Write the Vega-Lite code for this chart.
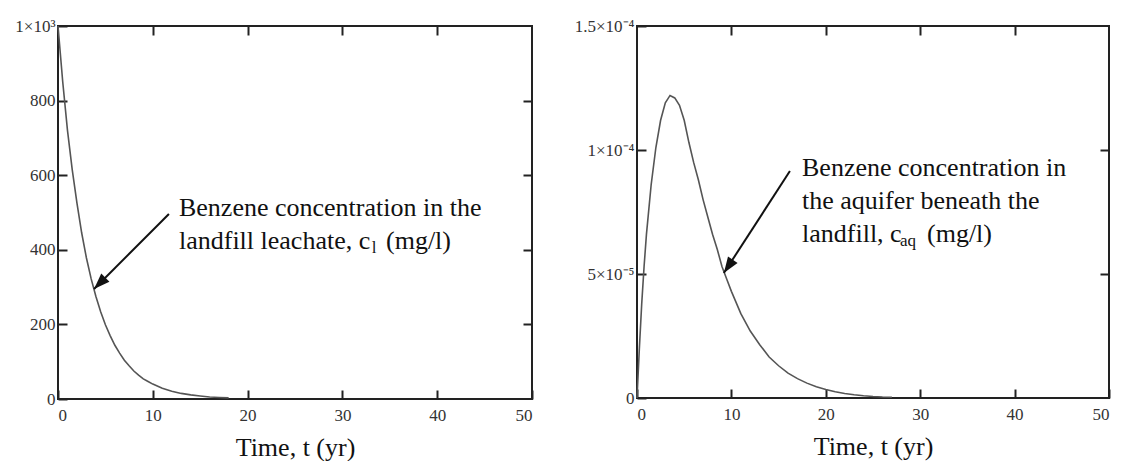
{
  "$schema": "https://vega.github.io/schema/vega-lite/v6.json",
  "padding": {"left": 13, "top": 16, "right": 0, "bottom": 0},
  "background": "white",
  "spacing": 39,
  "config": {
    "view": {"stroke": "#222", "strokeWidth": 2},
    "font": "Liberation Serif",
    "axis": {
      "labelFont": "Liberation Serif", "labelFontSize": 17, "labelColor": "#333",
      "titleFont": "Liberation Serif", "titleFontSize": 26, "titleFontWeight": "normal", "titleColor": "#111",
      "domain": false, "grid": false, "tickColor": "#222", "tickWidth": 2, "tickSize": -9, "labelPadding": 12
    },
    "axisX": {"labelPadding": 17}
  },
  "datasets": {
    "leachate": [
      {"t": 0, "c": 1000}, {"t": 0.5, "c": 850}, {"t": 1, "c": 720}, {"t": 1.5, "c": 615},
      {"t": 2, "c": 525}, {"t": 2.5, "c": 445}, {"t": 3, "c": 378}, {"t": 3.5, "c": 322},
      {"t": 4, "c": 275}, {"t": 4.5, "c": 234}, {"t": 5, "c": 199}, {"t": 5.5, "c": 170},
      {"t": 6, "c": 144}, {"t": 6.5, "c": 123}, {"t": 7, "c": 104}, {"t": 7.5, "c": 89},
      {"t": 8, "c": 75}, {"t": 8.5, "c": 64}, {"t": 9, "c": 54}, {"t": 9.5, "c": 47},
      {"t": 10, "c": 40}, {"t": 11, "c": 29}, {"t": 12, "c": 21}, {"t": 13, "c": 15},
      {"t": 14, "c": 11}, {"t": 15, "c": 8}, {"t": 16, "c": 5.5}, {"t": 17, "c": 4}, {"t": 18, "c": 3}
    ],
    "aquifer": [
      {"t": 0, "c": 0}, {"t": 0.25, "c": 0.00002}, {"t": 0.5, "c": 0.000038}, {"t": 0.75, "c": 0.000053},
      {"t": 1, "c": 0.000066}, {"t": 1.5, "c": 0.000086}, {"t": 2, "c": 0.000101}, {"t": 2.5, "c": 0.000112},
      {"t": 3, "c": 0.000119}, {"t": 3.5, "c": 0.000122}, {"t": 4, "c": 0.000121}, {"t": 4.5, "c": 0.000118},
      {"t": 5, "c": 0.000112}, {"t": 5.5, "c": 0.000103}, {"t": 6, "c": 0.000095}, {"t": 6.5, "c": 0.000088},
      {"t": 7, "c": 0.00008}, {"t": 7.5, "c": 0.000073}, {"t": 8, "c": 0.000066}, {"t": 8.5, "c": 0.00006},
      {"t": 9, "c": 0.000053}, {"t": 9.5, "c": 0.000048}, {"t": 10, "c": 0.000043}, {"t": 11, "c": 0.000034},
      {"t": 12, "c": 0.000027}, {"t": 13, "c": 0.0000215}, {"t": 14, "c": 0.0000165}, {"t": 15, "c": 0.000013},
      {"t": 16, "c": 0.00001}, {"t": 17, "c": 0.0000078}, {"t": 18, "c": 0.000006}, {"t": 19, "c": 0.0000045},
      {"t": 20, "c": 0.0000034}, {"t": 21, "c": 0.0000025}, {"t": 22, "c": 0.0000018}, {"t": 23, "c": 0.0000013},
      {"t": 24, "c": 0.0000009}, {"t": 25, "c": 0.0000006}, {"t": 26, "c": 0.0000004}, {"t": 27, "c": 0.0000003}
    ],
    "arrow1": [{"x1": 11.7, "y1": 496, "x2": 3.8, "y2": 295}],
    "arrow2": [{"x1": 16.2, "y1": 0.0000915, "x2": 9.2, "y2": 0.0000504}],
    "text1": [
      {"x": 12.76, "y": 512, "label": "Benzene concentration in the"},
      {"x": 12.76, "y": 424, "label": "landfill leachate, c"},
      {"x": 34.6, "y": 424, "label": "(mg/l)"}
    ],
    "sub1": [{"x": 33.1, "y": 424, "label": "l"}],
    "text2": [
      {"x": 17.48, "y": 0.0000927, "label": "Benzene concentration in"},
      {"x": 17.48, "y": 0.0000794, "label": "the aquifer beneath the"},
      {"x": 17.48, "y": 0.0000661, "label": "landfill, c"},
      {"x": 30.72, "y": 0.0000661, "label": "(mg/l)"}
    ],
    "sub2": [{"x": 27.86, "y": 0.0000661, "label": "aq"}]
  },
  "hconcat": [
    {
      "width": 474, "height": 373,
      "resolve": {"axis": {"x": "independent", "y": "independent"}},
      "layer": [
        {
          "data": {"name": "leachate"},
          "mark": {"type": "line", "color": "#555", "strokeWidth": 1.6},
          "encoding": {
            "x": {"field": "t", "type": "quantitative", "scale": {"domain": [0, 50], "nice": false},
                  "axis": {"values": [0, 10, 20, 30, 40, 50], "title": "Time, t (yr)", "titlePadding": 11}},
            "y": {"field": "c", "type": "quantitative", "scale": {"domain": [0, 1000], "nice": false},
                  "axis": {"values": [0, 200, 400, 600, 800, 1000], "title": null,
                           "labelExpr": "datum.value >= 1000 ? '1×10³' : datum.label"}}
          }
        },
        {
          "data": {"name": "arrow1"},
          "mark": {"type": "rule", "strokeWidth": 2, "color": "#111"},
          "encoding": {
            "x": {"field": "x1", "type": "quantitative",
                  "axis": {"orient": "top", "labels": false, "values": [10, 20, 30, 40], "title": null}},
            "y": {"field": "y1", "type": "quantitative",
                  "axis": {"orient": "right", "labels": false, "values": [200, 400, 600, 800], "title": null}},
            "x2": {"field": "x2"},
            "y2": {"field": "y2"}
          }
        },
        {
          "data": {"name": "arrow1"},
          "mark": {"type": "point", "shape": "M0,0L-0.36,1L0.36,1Z", "size": 1024, "filled": true, "color": "#111", "opacity": 1, "angle": 225},
          "encoding": {
            "x": {"field": "x2", "type": "quantitative", "axis": null},
            "y": {"field": "y2", "type": "quantitative", "axis": null}
          }
        },
        {
          "data": {"name": "text1"},
          "mark": {"type": "text", "align": "left", "baseline": "middle", "font": "Liberation Serif", "fontSize": 26, "color": "#111"},
          "encoding": {
            "x": {"field": "x", "type": "quantitative", "axis": null},
            "y": {"field": "y", "type": "quantitative", "axis": null},
            "text": {"field": "label"}
          }
        },
        {
          "data": {"name": "sub1"},
          "mark": {"type": "text", "align": "left", "baseline": "middle", "font": "Liberation Serif", "fontSize": 17, "dy": 7, "color": "#111"},
          "encoding": {
            "x": {"field": "x", "type": "quantitative", "axis": null},
            "y": {"field": "y", "type": "quantitative", "axis": null},
            "text": {"field": "label"}
          }
        }
      ]
    },
    {
      "width": 472, "height": 372,
      "resolve": {"axis": {"x": "independent", "y": "independent"}},
      "layer": [
        {
          "data": {"name": "aquifer"},
          "mark": {"type": "line", "color": "#555", "strokeWidth": 1.6},
          "encoding": {
            "x": {"field": "t", "type": "quantitative", "scale": {"domain": [0, 50], "nice": false},
                  "axis": {"values": [0, 10, 20, 30, 40, 50], "title": "Time, t (yr)", "titlePadding": 11}},
            "y": {"field": "c", "type": "quantitative", "scale": {"domain": [0, 0.00015], "nice": false},
                  "axis": {"values": [0, 0.00005, 0.0001, 0.00015], "title": null,
                           "labelExpr": "datum.value > 0.00014 ? '1.5×10⁻⁴' : datum.value > 0.00009 ? '1×10⁻⁴' : datum.value > 0.00004 ? '5×10⁻⁵' : '0'"}}
          }
        },
        {
          "data": {"name": "arrow2"},
          "mark": {"type": "rule", "strokeWidth": 2, "color": "#111"},
          "encoding": {
            "x": {"field": "x1", "type": "quantitative",
                  "axis": {"orient": "top", "labels": false, "values": [10, 20, 30, 40], "title": null}},
            "y": {"field": "y1", "type": "quantitative",
                  "axis": {"orient": "right", "labels": false, "values": [0.00005, 0.0001], "title": null}},
            "x2": {"field": "x2"},
            "y2": {"field": "y2"}
          }
        },
        {
          "data": {"name": "arrow2"},
          "mark": {"type": "point", "shape": "M0,0L-0.36,1L0.36,1Z", "size": 1024, "filled": true, "color": "#111", "opacity": 1, "angle": 214},
          "encoding": {
            "x": {"field": "x2", "type": "quantitative", "axis": null},
            "y": {"field": "y2", "type": "quantitative", "axis": null}
          }
        },
        {
          "data": {"name": "text2"},
          "mark": {"type": "text", "align": "left", "baseline": "middle", "font": "Liberation Serif", "fontSize": 26, "color": "#111"},
          "encoding": {
            "x": {"field": "x", "type": "quantitative", "axis": null},
            "y": {"field": "y", "type": "quantitative", "axis": null},
            "text": {"field": "label"}
          }
        },
        {
          "data": {"name": "sub2"},
          "mark": {"type": "text", "align": "left", "baseline": "middle", "font": "Liberation Serif", "fontSize": 17, "dy": 7, "color": "#111"},
          "encoding": {
            "x": {"field": "x", "type": "quantitative", "axis": null},
            "y": {"field": "y", "type": "quantitative", "axis": null},
            "text": {"field": "label"}
          }
        }
      ]
    }
  ]
}
